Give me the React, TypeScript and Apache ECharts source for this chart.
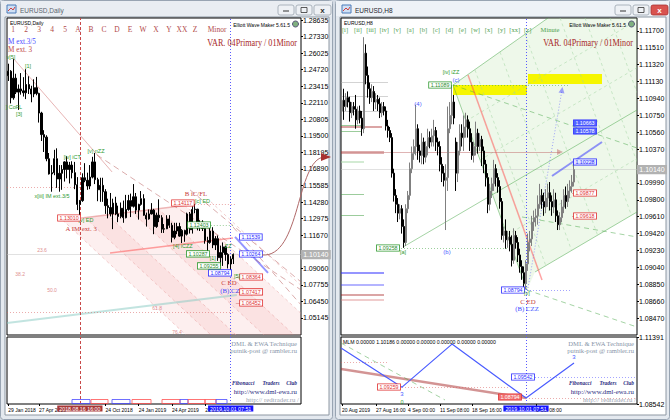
import React, { useEffect, useRef } from 'react';
import * as echarts from 'echarts';

const SANS = 'Liberation Sans, Arial, sans-serif';
const SERIF = 'Liberation Serif, Times New Roman, serif';
const MONTHS = ['Jan', 'Feb', 'Mar', 'Apr', 'May', 'Jun', 'Jul', 'Aug', 'Sep', 'Oct', 'Nov', 'Dec'];

// ================= LEFT WINDOW: EURUSD,Daily (bars, one per week) =================
// [open, close, low, high]
const leftBars = [
  [1.2425, 1.2460, 1.2383, 1.2519], [1.2460, 1.2250, 1.2206, 1.2468], [1.2250, 1.2405, 1.2235, 1.2555],
  [1.2405, 1.2295, 1.2280, 1.2440], [1.2295, 1.2320, 1.2155, 1.2355], [1.2320, 1.2305, 1.2275, 1.2445],
  [1.2305, 1.2290, 1.2260, 1.2413], [1.2290, 1.2355, 1.2240, 1.2476], [1.2355, 1.2320, 1.2280, 1.2420],
  [1.2320, 1.2280, 1.2215, 1.2345], [1.2280, 1.2330, 1.2255, 1.2396], [1.2330, 1.2285, 1.2270, 1.2415],
  [1.2285, 1.2130, 1.2055, 1.2290], [1.2130, 1.1960, 1.1910, 1.2140], [1.1960, 1.1940, 1.1823, 1.1995],
  [1.1940, 1.1770, 1.1750, 1.1955], [1.1770, 1.1650, 1.1645, 1.1815], [1.1650, 1.1660, 1.1510, 1.1720],
  [1.1660, 1.1770, 1.1640, 1.1840], [1.1770, 1.1610, 1.1540, 1.1852], [1.1610, 1.1655, 1.1510, 1.1720],
  [1.1655, 1.1685, 1.1525, 1.1720], [1.1685, 1.1745, 1.1590, 1.1750], [1.1745, 1.1685, 1.1615, 1.1790],
  [1.1685, 1.1720, 1.1575, 1.1745], [1.1720, 1.1660, 1.1615, 1.1750], [1.1660, 1.1565, 1.1530, 1.1745],
  [1.1565, 1.1410, 1.1365, 1.1625], [1.1410, 1.1440, 1.1301, 1.1445], [1.1440, 1.1620, 1.1430, 1.1655],
  [1.1620, 1.1600, 1.1585, 1.1735], [1.1600, 1.1555, 1.1525, 1.1660], [1.1555, 1.1625, 1.1530, 1.1720],
  [1.1625, 1.1745, 1.1615, 1.1785], [1.1745, 1.1605, 1.1570, 1.1815], [1.1605, 1.1525, 1.1435, 1.1620],
  [1.1525, 1.1560, 1.1430, 1.1620], [1.1560, 1.1510, 1.1430, 1.1620], [1.1510, 1.1400, 1.1335, 1.1530],
  [1.1400, 1.1385, 1.1300, 1.1455], [1.1385, 1.1335, 1.1315, 1.1500], [1.1335, 1.1420, 1.1215, 1.1455],
  [1.1420, 1.1335, 1.1325, 1.1470], [1.1335, 1.1315, 1.1270, 1.1400], [1.1315, 1.1380, 1.1300, 1.1425],
  [1.1380, 1.1305, 1.1265, 1.1440], [1.1305, 1.1370, 1.1300, 1.1485], [1.1370, 1.1440, 1.1360, 1.1485],
  [1.1440, 1.1395, 1.1310, 1.1495], [1.1395, 1.1470, 1.1385, 1.1570], [1.1470, 1.1365, 1.1335, 1.1500],
  [1.1365, 1.1410, 1.1290, 1.1415], [1.1410, 1.1455, 1.1400, 1.1515], [1.1455, 1.1325, 1.1320, 1.1490],
  [1.1325, 1.1295, 1.1235, 1.1345], [1.1295, 1.1335, 1.1290, 1.1370], [1.1335, 1.1365, 1.1330, 1.1420],
  [1.1365, 1.1235, 1.1175, 1.1375], [1.1235, 1.1325, 1.1225, 1.1345], [1.1325, 1.1305, 1.1270, 1.1450],
  [1.1305, 1.1215, 1.1185, 1.1325], [1.1215, 1.1218, 1.1185, 1.1255], [1.1218, 1.1295, 1.1215, 1.1325],
  [1.1295, 1.1245, 1.1225, 1.1325], [1.1245, 1.1150, 1.1110, 1.1265], [1.1150, 1.1200, 1.1135, 1.1265],
  [1.1200, 1.1235, 1.1175, 1.1265], [1.1235, 1.1160, 1.1155, 1.1265], [1.1160, 1.1205, 1.1105, 1.1215],
  [1.1205, 1.1175, 1.1115, 1.1210], [1.1175, 1.1335, 1.1165, 1.1345], [1.1335, 1.1210, 1.1180, 1.1350],
  [1.1210, 1.1370, 1.1180, 1.1395], [1.1370, 1.1372, 1.1340, 1.1412], [1.1372, 1.1225, 1.1205, 1.1375],
  [1.1225, 1.1270, 1.1200, 1.1285], [1.1270, 1.1220, 1.1200, 1.1285], [1.1220, 1.1125, 1.1100, 1.1230],
  [1.1125, 1.1110, 1.1027, 1.1155], [1.1110, 1.1200, 1.1100, 1.1250], [1.1200, 1.1090, 1.1065, 1.1230],
  [1.1090, 1.1140, 1.1050, 1.1160], [1.1140, 1.0990, 1.0965, 1.1165], [1.0990, 1.1030, 1.0925, 1.1085],
  [1.1030, 1.1075, 1.0925, 1.1110], [1.1075, 1.1015, 1.0965, 1.1085], [1.1015, 1.0940, 1.0905, 1.1025],
  [1.0940, 1.0980, 1.0879, 1.1000], [1.0980, 1.1014, 1.0940, 1.1023],
];
const leftSlotCount = 115;
const leftCategories = Array.from({ length: leftSlotCount }, (_, i) => {
  const d = new Date(Date.UTC(2018, 0, 29) + i * 7 * 86400000);
  return `${d.getUTCDate()} ${MONTHS[d.getUTCMonth()]} ${d.getUTCFullYear()}`;
});
const leftDateLabels: [number, string][] = [
  [0, '29 Jan 2018'], [12, '27 Apr 2018'], [38, '24 Oct 2018'], [51, '24 Jan 2019'], [64, '24 Apr 2019'], [77, '23 Jul 2019'],
];
// 1.10365 sits under the current-price box in the reference, so it is not listed
const leftPriceTicks = [1.28635, 1.27330, 1.26025, 1.24720, 1.23415, 1.22110, 1.20805, 1.19500, 1.18195, 1.16890,
  1.15585, 1.14280, 1.12975, 1.11670, 1.09060, 1.07755, 1.06450, 1.05145];
const leftPriceRange = [1.03804, 1.28793];
const leftLastPrice = 1.1014;
const leftVLines: [number, string, string][] = [[28, '2018.08.16 16:00', 'red'], [87, '2019.10.01 07:51', 'blue']];
// [x1, price1, x2, price2, kind]
const leftSegments: [number, number, number, number, string][] = [
  [-0.5, leftLastPrice, 114.5, leftLastPrice, 'lastPrice'],
  [1.85, 1.25641, 40.6, 1.16657, 'redThin'],
  [28, 1.1301, 73, 1.1412, 'redAB'],
  [39.8, 1.10275, 87.9, 1.11457, 'red'],
  [-0.5, 1.04759, 89.4, 1.06965, 'teal'],
  [88.7, 1.11535, 101.6, 1.08699, 'blueThick'],
  [-0.5, 1.15475, 28, 1.15475, 'redDot'],
  [73, 1.1412, 89, 1.1412, 'redDot'],
  [-0.5, 1.05625, 88, 1.05625, 'redDot'],
  [71, 1.12481, 88, 1.12481, 'greenDot'],
  [21.3, 1.12859, 69.5, 1.03804, 'pinkDash'],
  [29.9, 1.13080, 79.3, 1.03804, 'pinkDash'],
  [38.5, 1.13332, 89.1, 1.03804, 'pinkDash'],
  [48.2, 1.13537, 100.0, 1.03804, 'pinkDash'],
  [58.5, 1.13781, 111.8, 1.03804, 'pinkDash'],
  [68.9, 1.14057, 114.5, 1.05507, 'pinkDash'],
  [79.2, 1.14309, 114.5, 1.07706, 'pinkDash'],
  [34.7, 1.17997, 114.5, 1.07359, 'darkRedDash'],
  [71.1, 1.15239, 114.5, 1.07989, 'darkRedDash'],
  [87.9, 1.12323, 114.5, 1.06177, 'darkRedDash'],
  [89, 1.0838, 92.2, 1.0838, 'redThin'],
  [89, 1.0720, 92.2, 1.0720, 'redThin'],
  [89, 1.0633, 92.2, 1.0633, 'redThin'],
];
const leftPolygons: { pts: number[][]; kind: string }[] = [
  { pts: [[21.3, 1.12859], [68.9, 1.14057], [114.5, 1.05507], [114.5, 1.03804], [69.5, 1.03804]], kind: 'pink' },
  { pts: [[29.9, 1.13080], [38.5, 1.13332], [89.1, 1.03804], [79.3, 1.03804]], kind: 'pinkDeep' },
  { pts: [[48.2, 1.13537], [58.5, 1.13781], [111.8, 1.03804], [100, 1.03804]], kind: 'pinkDeep' },
];
// [x, price, text, kind]
const leftLabels: [number, number, string, string][] = [
  [120.3, leftLastPrice, '1.10140', 'lastBox'],
  [1, 1.2572, 'v[5]', 'green'], [7.7, 1.2501, '[1]', 'green'], [2.2, 1.2178, '] CoFL', 'green'],
  [4.2, 1.2123, '[3]', 'green'], [25, 1.1784, '[iv] iCT', 'green'], [34.3, 1.1831, '[v] nZZ', 'green'],
  [17.1, 1.1477, 'x[iii] IM ext.3/5', 'green'], [30.4, 1.1285, '[v] ED', 'green'],
  [28.5, 1.1217, 'A IM ext. 3', 'redSerif'], [23.8, 1.1303, '1.13010', 'redBox'],
  [73.4, 1.1492, 'B iC/FL', 'redSerif'], [68.3, 1.1421, '1.14117', 'redBox'], [76, 1.1437, '[c] ED', 'green'],
  [94.9, 1.1153, '1.11539', 'blueBox'], [94.9, 1.1019, '1.10264', 'blueBox'], [95, 1.0838, '1.08364', 'redBox'],
  [86.3, 1.0791, 'C ED', 'redSerif'], [87.5, 1.0728, '(B) CZZ', 'blueSerif'], [95, 1.0720, '1.07417', 'redBox'],
  [95, 1.0633, '1.06452', 'redBox'], [82.8, 1.0870, '1.08794', 'blueBox'], [74.6, 1.1248, '1.12403', 'greenBox'],
  [68.3, 1.1083, '[4] iCZZ', 'green'], [74.2, 1.1020, '1.10287', 'greenBox'], [80, 1.0988, '[1]', 'green'],
  [78.5, 1.0925, '1.09255', 'greenBox'], [86, 1.1083, 'ZZ', 'green'], [89.5, 1.0845, '[5]', 'green'],
  [13.2, 1.1051, '23.6', 'pink'], [4.6, 1.0862, '38.2', 'pink'], [17.1, 1.0736, '50.0', 'pink'],
  [58.2, 1.0594, '61.8', 'pink'], [66, 1.0405, '76.4', 'pink'],
];

// ================= RIGHT WINDOW: EURUSD,H8 =================
const rightBars = [
  [1.1080, 1.1092, 1.1075, 1.1098], [1.1092, 1.1085, 1.1070, 1.1105], [1.1085, 1.1095, 1.1080, 1.1100],
  [1.1095, 1.1090, 1.1084, 1.1102], [1.1090, 1.1078, 1.1068, 1.1096], [1.1078, 1.1085, 1.1072, 1.1090],
  [1.1085, 1.1082, 1.1075, 1.1090], [1.1082, 1.1070, 1.1060, 1.1098], [1.1070, 1.1080, 1.1065, 1.1085],
  [1.1080, 1.1072, 1.1066, 1.1086], [1.1072, 1.1060, 1.1052, 1.1080], [1.1060, 1.1145, 1.1055, 1.1163],
  [1.1145, 1.1120, 1.1110, 1.1155], [1.1120, 1.1105, 1.1095, 1.1130], [1.1105, 1.1095, 1.1088, 1.1112],
  [1.1095, 1.1102, 1.1090, 1.1110], [1.1102, 1.1090, 1.1080, 1.1108], [1.1090, 1.1093, 1.1082, 1.1100],
  [1.1093, 1.1088, 1.1080, 1.1098], [1.1088, 1.1078, 1.1072, 1.1095], [1.1078, 1.1085, 1.1073, 1.1090],
  [1.1085, 1.1080, 1.1075, 1.1090], [1.1080, 1.1063, 1.1058, 1.1085], [1.1063, 1.1058, 1.1050, 1.1070],
  [1.1058, 1.1050, 1.1045, 1.1062], [1.1050, 1.1010, 1.1005, 1.1055], [1.1010, 1.0985, 1.0978, 1.1015],
  [1.0985, 1.0975, 1.0965, 1.0992], [1.0975, 1.0965, 1.0955, 1.0982], [1.0965, 1.0970, 1.0958, 1.0975],
  [1.0970, 1.0950, 1.0942, 1.0974], [1.0950, 1.0932, 1.0926, 1.0958], [1.0932, 1.0970, 1.0928, 1.0975],
  [1.0970, 1.0985, 1.0965, 1.0990], [1.0985, 1.1015, 1.0980, 1.1022], [1.1015, 1.1032, 1.1010, 1.1040],
  [1.1032, 1.1040, 1.1025, 1.1048], [1.1040, 1.1060, 1.1030, 1.1087], [1.1060, 1.1035, 1.1025, 1.1065],
  [1.1035, 1.1030, 1.1022, 1.1042], [1.1030, 1.1045, 1.1020, 1.1055], [1.1045, 1.1028, 1.1020, 1.1050],
  [1.1028, 1.1040, 1.1022, 1.1046], [1.1040, 1.1050, 1.1030, 1.1060], [1.1050, 1.1045, 1.1038, 1.1057],
  [1.1045, 1.1052, 1.1040, 1.1060], [1.1052, 1.1058, 1.1040, 1.1070], [1.1058, 1.1045, 1.1035, 1.1062],
  [1.1045, 1.1040, 1.1030, 1.1050], [1.1040, 1.1020, 1.1012, 1.1046], [1.1020, 1.1010, 1.1000, 1.1028],
  [1.1010, 1.1002, 1.0995, 1.1018], [1.1002, 1.1005, 1.0946, 1.1020], [1.1005, 1.1060, 1.0990, 1.1085],
  [1.1060, 1.1075, 1.1055, 1.1090], [1.1075, 1.1090, 1.1065, 1.1109], [1.1090, 1.1072, 1.1065, 1.1098],
  [1.1045, 1.1010, 1.0990, 1.1050], [1.1010, 1.1035, 1.1000, 1.1045], [1.1035, 1.1055, 1.1030, 1.1065],
  [1.1055, 1.1050, 1.1040, 1.1065], [1.1050, 1.1062, 1.1035, 1.1075], [1.1062, 1.1070, 1.1050, 1.1078],
  [1.1070, 1.1060, 1.1050, 1.1075], [1.1060, 1.1045, 1.1035, 1.1068], [1.1045, 1.1030, 1.1025, 1.1055],
  [1.1030, 1.1040, 1.1022, 1.1045], [1.1040, 1.1055, 1.1030, 1.1068], [1.1055, 1.1040, 1.1032, 1.1060],
  [1.1040, 1.1048, 1.1035, 1.1055], [1.1048, 1.1035, 1.1018, 1.1052], [1.1035, 1.1020, 1.1010, 1.1040],
  [1.1020, 1.1005, 1.0995, 1.1025], [1.1005, 1.0975, 1.0965, 1.1010], [1.0975, 1.0990, 1.0968, 1.0998],
  [1.0990, 1.0998, 1.0982, 1.1005], [1.0998, 1.1015, 1.0990, 1.1025], [1.1015, 1.1005, 1.0995, 1.1020],
  [1.1005, 1.0995, 1.0988, 1.1010], [1.0995, 1.0978, 1.0970, 1.1002], [1.0978, 1.0940, 1.0935, 1.0982],
  [1.0940, 1.0945, 1.0932, 1.0950], [1.0945, 1.0935, 1.0925, 1.0958], [1.0935, 1.0938, 1.0926, 1.0945],
  [1.0938, 1.0930, 1.0922, 1.0945], [1.0930, 1.0912, 1.0905, 1.0940], [1.0912, 1.0940, 1.0908, 1.0948],
  [1.0940, 1.0932, 1.0925, 1.0945], [1.0932, 1.0918, 1.0910, 1.0938], [1.0918, 1.0905, 1.0898, 1.0925],
  [1.0905, 1.0898, 1.0890, 1.0912], [1.0898, 1.0886, 1.0882, 1.0905], [1.0886, 1.0908, 1.0879, 1.0912],
  [1.0908, 1.0932, 1.0900, 1.0942], [1.0932, 1.0936, 1.0922, 1.0945], [1.0936, 1.0955, 1.0928, 1.0962],
  [1.0955, 1.0960, 1.0945, 1.0968], [1.0960, 1.0962, 1.0950, 1.0970], [1.0962, 1.0975, 1.0952, 1.0985],
  [1.0975, 1.0985, 1.0970, 1.0998], [1.0985, 1.0978, 1.0970, 1.0992], [1.0978, 1.0972, 1.0962, 1.0988],
  [1.0972, 1.0982, 1.0965, 1.0992], [1.0982, 1.0988, 1.0972, 1.0998], [1.0988, 1.0978, 1.0968, 1.1000],
  [1.0978, 1.0972, 1.0962, 1.0985], [1.0972, 1.0980, 1.0965, 1.0992], [1.0980, 1.0962, 1.0955, 1.0988],
  [1.0962, 1.0952, 1.0946, 1.0968], [1.0952, 1.0960, 1.0946, 1.0966], [1.0960, 1.0972, 1.0955, 1.0980],
  [1.0972, 1.0985, 1.0965, 1.0992], [1.0985, 1.0978, 1.0970, 1.0995], [1.0978, 1.0990, 1.0972, 1.0998],
  [1.0990, 1.0995, 1.0982, 1.1002], [1.0995, 1.1000, 1.0988, 1.1008], [1.1000, 1.1014, 1.0995, 1.1023],
];
const rightSlotCount = 148;
const rightCategories: string[] = (() => {
  const out: string[] = [];
  let t = Date.UTC(2019, 7, 20);
  while (out.length < rightSlotCount) {
    const d = new Date(t);
    const wd = d.getUTCDay();
    if (wd !== 0 && wd !== 6) {
      for (const h of ['00', '08', '16']) out.push(`${d.getUTCDate()} ${MONTHS[d.getUTCMonth()]} ${h}:00`);
    }
    t += 86400000;
  }
  return out.slice(0, rightSlotCount);
})();
const rightDateLabels: [number, string][] = [
  [0, '20 Aug 2019'], [17, '27 Aug 16:00'], [33, '4 Sep 00:00'], [49, '11 Sep 08:00'], [65, '18 Sep 16:00'],
  [97, '3 Oct 08:00'],
];
// 1.10180 sits under the current-price box in the reference, so it is not listed
const rightPriceTicks = [1.11700, 1.11510, 1.11320, 1.11130, 1.10940, 1.10750, 1.10560, 1.10370, 1.09990,
  1.09800, 1.09610, 1.09420, 1.09230, 1.09040, 1.08850, 1.08660, 1.08470];
const rightPriceRange = [1.08279, 1.11846];
const rightLastPrice = 1.1014;
const rightVLine: [number, string] = [92, '2019.10.01 07:51'];
const rightSegments: [number, number, number, number, string][] = [
  [-0.5, rightLastPrice, 147.5, rightLastPrice, 'lastPrice'],
  [55.5, 1.11092, 103, 1.11846, 'green'],
  [30.5, 1.09269, 147.5, 1.10811, 'green'],
  [96.5, 1.08988, 147.5, 1.09663, 'green'],
  [55.5, 1.11092, 92.5, 1.08785, 'green'],
  [55.5, 1.11092, 147.5, 1.10383, 'greenDash'],
  [92.5, 1.08785, 147.5, 1.08369, 'greenDash'],
  [90, 1.09607, 147.5, 1.09382, 'greenDash'],
  [66.5, 1.11261, 101.9, 1.09060, 'greenGrid'],
  [79, 1.11464, 114.8, 1.09230, 'greenGrid'],
  [91.5, 1.11667, 127.8, 1.09402, 'greenGrid'],
  [109, 1.11847, 144.7, 1.09626, 'greenGrid'],
  [121.5, 1.11847, 147.5, 1.10226, 'greenGrid'],
  [134, 1.11847, 147.5, 1.11005, 'greenGrid'],
  [62, 1.10687, 147.5, 1.11818, 'greenGrid'],
  [69, 1.10248, 147.5, 1.11287, 'greenGrid'],
  [82.5, 1.09404, 147.5, 1.10264, 'greenGrid'],
  [63, 1.11205, 100, 1.08898, 'red'],
  [55.5, 1.11092, 113, 1.11092, 'greenDot'],
  [105, 1.10068, 130, 1.10451, 'blueThick'],
  [-0.5, 1.10338, 21, 1.10338, 'darkRedThick'],
  [-0.5, 1.11126, 23, 1.11126, 'grey'], [-0.5, 1.10969, 23, 1.10969, 'grey'], [-0.5, 1.10800, 23, 1.10800, 'grey'],
  [-0.5, 1.10620, 20, 1.10620, 'darkRed'],
  [-0.5, 1.10642, 10, 1.10642, 'greenLevel'], [-0.5, 1.10575, 10, 1.10575, 'greenLevel'],
  [-0.5, 1.10226, 11, 1.10226, 'lightGreenThick'],
  [-0.5, 1.09866, 11, 1.09866, 'greenLevel'], [-0.5, 1.09629, 11, 1.09629, 'greenLevel'],
  [-0.5, 1.08976, 21, 1.08976, 'blueThick'], [-0.5, 1.08841, 21, 1.08841, 'blue'],
  [-0.5, 1.08737, 21, 1.08737, 'darkRed'], [-0.5, 1.08680, 21, 1.08680, 'pinkRed'],
  [92.5, 1.08785, 114, 1.08785, 'blueDot'],
  [28, 1.09258, 84, 1.09258, 'greenDot'],
  [115, 1.09877, 117.5, 1.09877, 'redThin'], [115, 1.09618, 117.5, 1.09618, 'redThin'],
];
const rightArrowSegments: [number, number, number, number, string][] = [
  [93, 1.08808, 110, 1.11036, 'blueDot'],
  [21, 1.10338, 109, 1.10338, 'darkRedThin'],
];
const rightPolygons: { pts: number[][]; kind: string }[] = [
  { pts: [[55.5, 1.11092], [103, 1.11846], [147.5, 1.11846], [147.5, 1.09663], [96.5, 1.08988], [92.5, 1.08785]], kind: 'greenFill' },
  { pts: [[55.5, 1.11092], [92.5, 1.11092], [92.5, 1.10980], [55.5, 1.10980]], kind: 'yellow' },
  { pts: [[93, 1.11216], [130, 1.11216], [130, 1.11104], [93, 1.11104]], kind: 'yellow' },
];
const rightLabels: [number, number, string, string][] = [
  [155, rightLastPrice, '1.10140', 'lastBox'],
  [54.5, 1.11239, '[iv] iZZ', 'green'], [49, 1.11092, '1.11089', 'greenBox'], [57, 1.11149, '(c)', 'blue'],
  [38, 1.10879, '(4)', 'blue'], [23, 1.09258, '1.09258', 'greenBox'], [30.5, 1.09213, '[a]', 'green'],
  [52.5, 1.09213, '(b)', 'blue'], [85.5, 1.08785, '1.08794', 'blueBox'], [92.5, 1.08751, '[v]', 'green'],
  [93, 1.08661, 'C ED', 'redSerif'], [92.5, 1.08572, '(B) CZZ', 'blueSerif'],
  [121.5, 1.10665, '1.10663', 'blueBoxFilled'], [121.5, 1.10575, '1.10578', 'blueBoxFilled'],
  [121.5, 1.10226, '1.10228', 'blueBoxLight'], [121.5, 1.09877, '1.09877', 'redBox'], [121.5, 1.09618, '1.09618', 'redBox'],
];
// MLM sub-window
const subTicks = [1.11391, 1.08542];
const subRange = [1.08542, 1.11391];
const mlmZigzag = [[-0.5, 1.10923], [30, 1.09258], [55, 1.11089], [92, 1.08794], [116, 1.10286]];
const subSegments: [number, number, number, number, string][] = [
  [-0.5, 1.10031, 92, 1.08799, 'darkRedThick'],
  [-0.5, 1.11136, 51.5, 1.08713, 'greenDash'],
  [-0.5, 1.10329, 23, 1.10329, 'redDot'],
  [30, 1.09266, 84, 1.09266, 'redDot'],
  [95, 1.0969, 147.5, 1.0969, 'blueDot'],
  [92, 1.08799, 147.5, 1.08799, 'redDot'],
];
const subLabels: [number, number, string, string][] = [
  [23.5, 1.09266, '1.09259', 'redBox'], [90.5, 1.0969, '1.09542', 'blueBox'], [84, 1.08841, '1.08794', 'redBoxFilled'],
  [30, 1.08968, '3', 'blue'], [30, 1.08628, '0', 'green'], [116, 1.1052, '3', 'blue'],
];

const leftWaveRow = ['1', '2', '3', '4', '5', 'A', 'B', 'C', 'D', 'E', 'W', 'X', 'Y', 'XX', 'Z'];
const rightWaveRow = ['[i]', '[ii]', '[iii]', '[iv]', '[v]', '[a]', '[b]', '[c]', '[d]', '[e]', '[w]', '[x]', '[y]', '[xx]', '[z]'];

// ---------------- styles ----------------
const LINE_STYLES: Record<string, any> = {
  lastPrice: { color: '#c4c4c4', width: 1 },
  redThin: { color: '#cf6a6a', width: 1 },
  redAB: { color: '#e07a7a', width: 1.5 },
  red: { color: '#ff4a4a', width: 1.5 },
  teal: { color: '#86c9c1', width: 2 },
  blueThick: { color: '#2b2bff', width: 2 },
  blue: { color: '#3a3aff', width: 1.5 },
  redDot: { color: '#d85a5a', width: 1, type: [1, 2] },
  greenDot: { color: '#3aa03a', width: 1, type: [1, 2] },
  blueDot: { color: '#4a4aff', width: 1, type: [1, 2] },
  pinkDash: { color: '#e8a0a0', width: 1, type: [3, 3] },
  darkRedDash: { color: '#b85c5c', width: 1, type: [6, 4] },
  green: { color: '#4aa84a', width: 1 },
  greenDash: { color: '#4aa84a', width: 1, type: [5, 4] },
  greenGrid: { color: '#9fd49f', width: 1, type: [3, 3] },
  darkRedThick: { color: '#a82a2a', width: 2.5 },
  darkRedThin: { color: '#c06a6a', width: 1 },
  darkRed: { color: '#a01010', width: 1.5 },
  pinkRed: { color: '#d87878', width: 1.5 },
  grey: { color: '#a8a8a8', width: 1 },
  greenLevel: { color: '#3a9a3a', width: 1 },
  lightGreenThick: { color: '#a8d8a8', width: 2 },
};
const FILL_STYLES: Record<string, string> = {
  pink: 'rgba(238,130,130,0.13)',
  pinkDeep: 'rgba(238,130,130,0.12)',
  greenFill: 'rgba(160,215,140,0.18)',
  yellow: '#f6f600',
};
const TEXT_STYLES: Record<string, any> = {
  lastBox: { color: '#ffffff', size: 7, family: SANS, bg: '#b2b2b2', border: '#b2b2b2' },
  green: { color: '#2f9a2f', size: 5.5, family: SANS },
  blue: { color: '#4a5cff', size: 6, family: SANS },
  redSerif: { color: '#c84040', size: 6.8, family: SERIF },
  blueSerif: { color: '#3a4cff', size: 6.8, family: SERIF },
  pink: { color: '#e09090', size: 5, family: SANS },
  redBox: { color: '#e03030', size: 5.3, family: SANS, bg: '#ffffff', border: '#e03030' },
  redBoxFilled: { color: '#ffffff', size: 5.3, family: SANS, bg: '#f07070', border: '#e03030' },
  blueBox: { color: '#2a2aff', size: 5.3, family: SANS, bg: '#ffffff', border: '#2a2aff' },
  blueBoxFilled: { color: '#ffffff', size: 5.3, family: SANS, bg: '#5264ff', border: '#2a2aff' },
  blueBoxLight: { color: '#2a2aff', size: 5.3, family: SANS, bg: '#dfe4ff', border: '#2a2aff' },
  greenBox: { color: '#2a8a2a', size: 5.3, family: SANS, bg: '#ffffff', border: '#2f9a2f' },
};

function segSeries(segs: [number, number, number, number, string][], axis: number, extra: any = {}) {
  return {
    type: 'lines', coordinateSystem: 'cartesian2d', xAxisIndex: axis, yAxisIndex: axis, silent: true, z: 4,
    symbol: ['none', 'none'],
    data: segs.map(s => ({ coords: [[s[0], s[1]], [s[2], s[3]]], lineStyle: LINE_STYLES[s[4]] })),
    ...extra,
  };
}
function polySeries(polys: { pts: number[][]; kind: string }[], axis: number) {
  return {
    type: 'custom', coordinateSystem: 'cartesian2d', xAxisIndex: axis, yAxisIndex: axis, silent: true, z: 1, clip: true,
    data: polys.map(p => p.pts[0]),
    renderItem: (params: any, api: any) => {
      const p = polys[params.dataIndex];
      return { type: 'polygon', shape: { points: p.pts.map(pt => api.coord(pt)) }, style: { fill: FILL_STYLES[p.kind] } };
    },
  };
}
function textSeries(items: [number, number, string, string][], axis: number) {
  return {
    type: 'custom', coordinateSystem: 'cartesian2d', xAxisIndex: axis, yAxisIndex: axis, silent: true, z: 20, clip: false,
    data: items.map(it => [it[0], it[1]]),
    renderItem: (params: any, api: any) => {
      const it = items[params.dataIndex];
      const s = TEXT_STYLES[it[3]];
      const pt = api.coord([it[0], it[1]]);
      return {
        type: 'text', x: pt[0], y: pt[1],
        style: {
          text: it[2], fill: s.color, font: `${s.size}px ${s.family}`,
          align: 'center', verticalAlign: 'middle', textAlign: 'center', textVerticalAlign: 'middle',
          backgroundColor: s.bg, borderColor: s.border, borderWidth: s.border ? 0.8 : 0,
          padding: s.border ? [0.5, 1.5, 0, 1.5] : 0,
        },
      };
    },
  };
}

function txt(text: string, x: number, y: number, size: number, color: string, o: any = {}) {
  return {
    type: 'text', x, y, z: 100, silent: true, scaleX: o.scaleX ?? 1,
    style: {
      text, fill: color, font: `${o.italic ? 'italic ' : ''}${o.bold ? 'bold ' : ''}${size}px ${o.family || SANS}`,
      align: o.align || 'left', textAlign: o.align || 'left', verticalAlign: 'middle', textVerticalAlign: 'middle',
    },
  };
}

function windowChrome(x0: number, w: number, title: string, active: boolean) {
  const els: any[] = [
    { type: 'rect', z: -100, shape: { x: x0 + 0.5, y: 0.5, width: w - 1, height: 419, r: 3 }, style: { fill: '#e4e9ef', stroke: '#98a4b2' } },
    { type: 'rect', z: -99, shape: { x: x0 + 1, y: 1, width: w - 2, height: 15 }, style: { fill: active ? '#eef2f7' : '#e9edf2' } },
    { type: 'rect', z: -98, shape: { x: x0 + 5, y: 17, width: w - 9, height: 398 }, style: { fill: '#ffffff', stroke: '#8e98a3' } },
    { type: 'rect', z: 100, shape: { x: x0 + 7, y: 5, width: 9, height: 8 }, style: { fill: '#cfe0f5', stroke: '#4a7ab8' } },
    { type: 'polyline', z: 101, shape: { points: [[x0 + 8, 11], [x0 + 11, 8], [x0 + 13, 10], [x0 + 15, 7]] }, style: { stroke: '#d04040', lineWidth: 1, fill: 'none' } },
    txt(title, x0 + 20, 10, 6.5, active ? '#1e2630' : '#5c6670'),
  ];
  const bx = x0 + w - 55;
  const btn = (x: number, wd: number, fill: string, stroke: string) =>
    ({ type: 'rect', z: 100, shape: { x, y: 5, width: wd, height: 10, r: 2 }, style: { fill, stroke, lineWidth: 0.8 } });
  els.push(btn(bx, 16, '#eef1f5', '#9aa4ae'), btn(bx + 18, 16, '#eef1f5', '#9aa4ae'),
    btn(bx + 36, 17, active ? '#d9534f' : '#eef1f5', active ? '#a83232' : '#9aa4ae'));
  els.push({ type: 'line', z: 101, shape: { x1: bx + 5, y1: 11, x2: bx + 11, y2: 11 }, style: { stroke: '#333', lineWidth: 1 } });
  els.push({ type: 'rect', z: 101, shape: { x: bx + 23, y: 7.5, width: 6, height: 5 }, style: { fill: 'none', stroke: '#333', lineWidth: 0.8 } });
  els.push(txt('x', bx + 44.5, 10, 8, active ? '#ffffff' : '#333', { align: 'center', bold: true }));
  return els;
}

function buildGraphic() {
  const g: any[] = [{ type: 'rect', z: -101, shape: { x: 0, y: 0, width: 670, height: 420 }, style: { fill: '#d3dae3' } }];
  g.push(...windowChrome(0, 333, 'EURUSD,Daily', false));
  g.push(...windowChrome(335, 335, 'EURUSD,H8', true));
  g.push(txt('EURUSD,Daily', 10, 22.5, 5, '#000'));
  g.push(txt('EURUSD,H8', 344, 22.5, 5, '#000'));
  g.push(txt('Elliott Wave Maker 5.61.5', 290, 24.5, 5, '#000', { align: 'right' }));
  g.push(txt('Elliott Wave Maker 5.61.5', 626, 24.5, 5, '#000', { align: 'right' }));
  for (const cx of [295.5, 631.5]) {
    g.push({ type: 'circle', z: 100, shape: { cx, cy: 24, r: 3 }, style: { fill: '#7fb07f', stroke: '#557' } });
  }
  leftWaveRow.forEach((w, i) => g.push(txt(w, 13 + i * 13, 29.5, 7.5, '#b24a4a', { align: 'center', family: SERIF })));
  g.push(txt('Minor', 217, 29.5, 7.5, '#b24a4a', { align: 'center', family: SERIF }));
  rightWaveRow.forEach((w, i) => g.push(txt(w, 345 + i * 13.05, 29.5, 6.5, '#4c9e4c', { align: 'center', family: SERIF })));
  g.push(txt('Minute', 550, 29.5, 6.5, '#4c9e4c', { align: 'center', family: SERIF }));
  g.push(txt('VAR. 04Primary / 01Minor', 297, 43, 10.5, '#a82828', { align: 'right', family: SERIF, scaleX: 0.78 }));
  g.push(txt('VAR. 04Primary / 01Minor', 633, 43, 10.5, '#a82828', { align: 'right', family: SERIF, scaleX: 0.78 }));
  g.push(txt('M ext.3/5', 8, 42, 7.2, '#4a4aff', { family: SERIF }));
  g.push(txt('M ext. 3', 8, 49.5, 7.2, '#c04848', { family: SERIF }));
  for (const rx of [297, 634]) {
    g.push(txt('DML & EWA Technique', rx, 343.5, 6.6, '#8795a8', { align: 'right', family: SERIF }));
    g.push(txt('putnik-post @ rambler.ru', rx, 350.5, 6.6, '#8795a8', { align: 'right', family: SERIF }));
    g.push(txt('Fibonacci', rx - 65, 383, 5.4, '#2a2a80', { italic: true, bold: true, family: SERIF }));
    g.push(txt('Traders', rx - 26, 383, 5.4, '#2a2a80', { italic: true, bold: true, family: SERIF, align: 'center' }));
    g.push(txt('Club', rx, 383, 5.4, '#2a2a80', { italic: true, bold: true, family: SERIF, align: 'right' }));
    g.push(txt('http://www.dml-ewa.ru', rx, 391.5, 6.8, '#2a2a80', { align: 'right', family: SERIF }));
    g.push(txt('http:// redtrader.ru /', rx + 2, 399.5, 6.8, '#9aa2b2', { align: 'right', family: SERIF }));
  }
  g.push(txt('MLM 0.00000 1.10186 0.00000 0.00000 0.00000 0.00000 0.00000', 343, 341.5, 5.2, '#000'));
  const foot: [number, number, string][] = [[72, 18, '#4a4aff'], [91, 17, '#ff5050'], [112, 18, '#4a4aff'], [132, 19, '#ff5050'],
    [162, 18, '#ff5050'], [180, 8, '#4a4aff'], [188, 17, '#ff5050'], [205, 11, '#ff5050'], [216, 11, '#4a4aff']];
  foot.forEach(([x, w, c]) => g.push({ type: 'rect', z: 90, shape: { x, y: 399.5, width: w, height: 4 }, style: { fill: 'none', stroke: c, lineWidth: 0.8 } }));
  g.push({ type: 'bezierCurve', z: 95, shape: { x1: 262, y1: 255, cpx1: 301, cpy1: 258, cpx2: 296, cpy2: 160, x2: 324, y2: 157 }, style: { stroke: '#b06868', lineWidth: 1, fill: 'none' } });
  g.push({ type: 'polygon', z: 96, shape: { points: [[321, 153], [331, 157], [321, 161]] }, style: { fill: '#a83030' } });
  return g;
}

function buildOption() {
  const leftLabelMap = new Map(leftDateLabels);
  const rightLabelMap = new Map(rightDateLabels);
  const gridBase = { show: true, backgroundColor: '#fff', borderColor: '#000', borderWidth: 1, containLabel: false, outerBoundsMode: 'none' };
  const gridOverlay = { show: false, containLabel: false, outerBoundsMode: 'none' };
  const hiddenX = (gridIndex: number, n: number) => ({ gridIndex, type: 'value', min: -0.5, max: n - 0.5, show: false });
  const hiddenY = (gridIndex: number, r: number[]) => ({ gridIndex, type: 'value', min: r[0], max: r[1], show: false });
  const priceAxis = (gridIndex: number, r: number[], ticks: number[]) => ({
    gridIndex, type: 'value', position: 'right', min: r[0], max: r[1],
    splitLine: { show: false }, axisLine: { show: false },
    axisTick: { show: true, length: 2, customValues: ticks, lineStyle: { color: '#000' } },
    axisLabel: { customValues: ticks, formatter: (v: number) => v.toFixed(5), fontSize: 7, color: '#000', margin: 2, fontFamily: SANS },
  });
  const dateAxis = (gridIndex: number, cats: string[], map: Map<number, string>) => ({
    gridIndex, type: 'category', data: cats, boundaryGap: true,
    axisLine: { show: false }, splitLine: { show: false },
    axisTick: { show: true, alignWithLabel: true, length: 2, interval: (i: number) => map.has(i), lineStyle: { color: '#000' } },
    axisLabel: { interval: (i: number) => map.has(i), formatter: (_v: string, i: number) => map.get(i) || '', align: 'left', fontSize: 5, color: '#000', margin: 3, fontFamily: SANS },
  });
  const vLabel = (text: string, bg: string) => ({ show: true, position: 'start', formatter: text, color: '#fff', backgroundColor: bg, fontSize: 5.3, padding: [1, 2, 0, 2], distance: 1.5, fontFamily: SANS });
  const vColor = (k: string) => (k === 'red' ? '#c84848' : '#5a5aff');
  const vType = (k: string) => (k === 'red' ? [3, 2] : [1, 2]);

  return {
    animation: false,
    textStyle: { fontFamily: SANS },
    grid: [
      { ...gridBase, left: 7, top: 18, width: 294, height: 317 },
      { ...gridBase, left: 7, top: 337, width: 294, height: 67 },
      { ...gridBase, left: 341, top: 18, width: 296, height: 317 },
      { ...gridBase, left: 341, top: 337, width: 296, height: 67 },
      { ...gridOverlay, left: 7, top: 18, width: 294, height: 317 },
      { ...gridOverlay, left: 341, top: 18, width: 296, height: 317 },
      { ...gridOverlay, left: 341, top: 337, width: 296, height: 67 },
    ],
    xAxis: [
      { gridIndex: 0, type: 'category', data: leftCategories, boundaryGap: true, show: false },
      dateAxis(1, leftCategories, leftLabelMap),
      { gridIndex: 2, type: 'category', data: rightCategories, boundaryGap: true, show: false },
      dateAxis(3, rightCategories, rightLabelMap),
      hiddenX(4, leftSlotCount),
      hiddenX(5, rightSlotCount),
      hiddenX(6, rightSlotCount),
    ],
    yAxis: [
      priceAxis(0, leftPriceRange, leftPriceTicks),
      { gridIndex: 1, type: 'value', min: 0, max: 1, show: false },
      priceAxis(2, rightPriceRange, rightPriceTicks),
      priceAxis(3, subRange, subTicks),
      hiddenY(4, leftPriceRange),
      hiddenY(5, rightPriceRange),
      hiddenY(6, subRange),
    ],
    graphic: { elements: buildGraphic() },
    series: [
      polySeries(leftPolygons, 4),
      polySeries(rightPolygons, 5),
      segSeries(leftSegments, 4),
      segSeries(rightSegments, 5),
      segSeries(rightArrowSegments, 5, { symbol: ['none', 'triangle'], symbolSize: 6 }),
      segSeries(subSegments, 6),
      {
        type: 'candlestick', xAxisIndex: 0, yAxisIndex: 0, data: leftBars, barWidth: 1.8, silent: true, z: 6,
        itemStyle: { color: '#000', color0: '#000', borderColor: '#000', borderColor0: '#000', borderWidth: 1 },
        markLine: {
          silent: true, symbol: ['none', 'none'], animation: false,
          data: leftVLines.map(([i, , k]) => ({ xAxis: i, lineStyle: { color: vColor(k), type: vType(k), width: 1 }, label: { show: false } })),
        },
      },
      {
        type: 'candlestick', xAxisIndex: 2, yAxisIndex: 2, data: rightBars, barWidth: 1.6, silent: true, z: 6,
        itemStyle: { color: '#a0a0a0', color0: '#000', borderColor: '#808080', borderColor0: '#000', borderWidth: 1 },
        markLine: {
          silent: true, symbol: ['none', 'none'], animation: false,
          data: [{ xAxis: rightVLine[0], lineStyle: { color: '#5a5aff', type: [1, 2], width: 1 }, label: { show: false } }],
        },
      },
      {
        type: 'line', xAxisIndex: 1, yAxisIndex: 1, data: [], silent: true,
        markLine: {
          silent: true, symbol: ['none', 'none'], animation: false,
          data: leftVLines.map(([i, t, k]) => ({ xAxis: i, lineStyle: { color: vColor(k), type: vType(k), width: 1 }, label: vLabel(t, k === 'red' ? '#a83838' : '#1414ff') })),
        },
      },
      {
        type: 'line', xAxisIndex: 3, yAxisIndex: 3, data: [], silent: true,
        markLine: {
          silent: true, symbol: ['none', 'none'], animation: false,
          data: [{ xAxis: rightVLine[0], lineStyle: { color: '#5a5aff', type: [1, 2], width: 1 }, label: vLabel(rightVLine[1], '#1414ff') }],
        },
      },
      {
        type: 'line', xAxisIndex: 6, yAxisIndex: 6, data: mlmZigzag, symbol: 'none', silent: true, z: 5,
        lineStyle: { color: '#4a5cff', width: 1.2 },
      },
      textSeries(leftLabels, 4),
      textSeries(rightLabels, 5),
      textSeries(subLabels, 6),
    ],
  };
}

export default function App() {
  const ref = useRef<HTMLDivElement>(null);
  useEffect(() => {
    document.body.style.margin = '0';
    const chart = echarts.init(ref.current as HTMLDivElement, null, { renderer: 'svg' });
    chart.setOption(buildOption() as any);
    return () => chart.dispose();
  }, []);
  return <div ref={ref} style={{ position: 'absolute', left: 0, top: 0, width: 670, height: 420 }} />;
}
